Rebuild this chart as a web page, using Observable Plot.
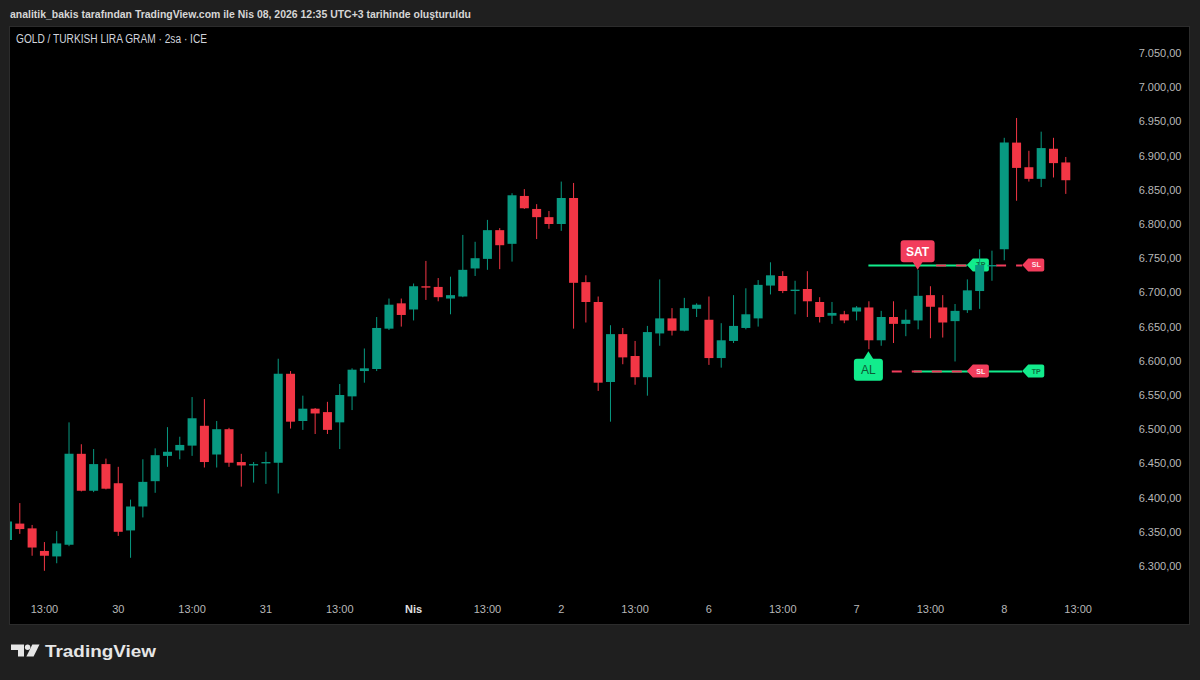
<!DOCTYPE html>
<html>
<head>
<meta charset="utf-8">
<script src="https://cdn.jsdelivr.net/npm/d3@7"></script>
<script src="https://cdn.jsdelivr.net/npm/@observablehq/plot@0.6"></script>
<style>
  html, body { margin: 0; padding: 0; background: #1f1f1f; }
  #page { position: relative; width: 1200px; height: 680px; background: #1f1f1f; overflow: hidden; }
  #panel { position: absolute; left: 9px; top: 26px; width: 1179px; height: 597px; background: #000; border: 1px solid #2c2c2c; }
  #chart { position: absolute; left: 0; top: 0; width: 1200px; height: 680px; }
  #overlay { position: absolute; left: 0; top: 0; pointer-events: none; }
</style>
</head>
<body>
<div id="page">
  <div id="panel"></div>
  <div id="chart"></div>
  <svg id="overlay" width="1200" height="680" xmlns="http://www.w3.org/2000/svg">
    <text x="10" y="18" font-family="Liberation Sans, Arial, sans-serif" font-size="11.5" font-weight="bold" fill="#d6d6d6" textLength="461" lengthAdjust="spacingAndGlyphs">analitik_bakis tarafından TradingView.com ile Nis 08, 2026 12:35 UTC+3 tarihinde oluşturuldu</text>
    <text x="16" y="42.5" font-family="Liberation Sans, Arial, sans-serif" font-size="12" fill="#d1d4dc" textLength="191" lengthAdjust="spacingAndGlyphs">GOLD / TURKISH LIRA GRAM · 2sa · ICE</text>
    <g fill="#e6e6e6">
      <path d="M11,644.5 H24 V656.5 H18 V650 H11 Z"/>
      <circle cx="27.6" cy="647.2" r="2.7"/>
      <path d="M32.3,644.5 H39.5 L33.6,656.5 H26.4 Z"/>
      <text x="45" y="656.7" font-family="Liberation Sans, Arial, sans-serif" font-size="16.5" font-weight="bold" textLength="111" lengthAdjust="spacingAndGlyphs">TradingView</text>
    </g>
  </svg>
</div>
<script>
// ---- OHLC data, 2-hour bars (index 1..87) ----
const opens  = [6338,6362,6355,6322,6314,6331,6464,6410,6449,6421,
                6352,6387,6424,6461,6469,6476,6505,6463,6500,6452,
                6447,6450,6451,6581,6512,6530,6525,6510,6548,6585,
                6588,6647,6684,6675,6709,6708,6691,6694,6735,6749,
                6791,6771,6841,6822,6810,6800,6838,6715,6686,6569,
                6639,6607,6576,6640,6662,6644,6676,6660,6604,6629,
                6648,6662,6710,6724,6702,6705,6686,6666,6668,6672,
                6678,6630,6664,6654,6659,6696,6678,6658,6674,6702,
                6738,6763,6919,6883,6866,6910,6890];
const highs  = [6372,6392,6360,6335,6351,6510,6478,6471,6457,6445,
                6397,6456,6472,6503,6489,6547,6544,6512,6502,6464,
                6452,6467,6603,6585,6549,6531,6540,6566,6589,6618,
                6664,6691,6691,6713,6746,6721,6723,6784,6774,6806,
                6794,6845,6851,6829,6819,6862,6860,6725,6694,6652,
                6648,6629,6651,6719,6677,6692,6684,6694,6655,6696,
                6706,6718,6744,6731,6717,6731,6693,6686,6673,6680,
                6687,6673,6687,6675,6733,6709,6696,6683,6719,6763,
                6761,6926,6955,6907,6935,6926,6898];
const lows   = [6330,6347,6315,6293,6304,6329,6409,6408,6412,6344,
                6312,6371,6407,6445,6456,6461,6444,6444,6445,6416,
                6422,6420,6406,6501,6499,6493,6493,6471,6528,6568,
                6585,6645,6650,6659,6689,6687,6668,6693,6724,6733,
                6734,6745,6822,6778,6793,6790,6647,6656,6556,6511,
                6595,6565,6549,6622,6637,6643,6664,6594,6590,6626,
                6646,6650,6697,6699,6668,6664,6656,6654,6655,6659,
                6617,6622,6626,6636,6646,6633,6634,6599,6670,6676,
                6717,6747,6834,6862,6854,6868,6844];
const closes = [6365,6354,6327,6315,6333,6464,6410,6449,6413,6350,
                6387,6423,6462,6467,6477,6516,6452,6500,6451,6447,
                6449,6452,6581,6511,6530,6523,6499,6550,6587,6589,
                6648,6682,6667,6709,6707,6693,6696,6733,6750,6791,
                6769,6842,6823,6810,6800,6838,6714,6686,6568,6639,
                6605,6576,6642,6662,6644,6677,6682,6604,6630,6651,
                6668,6711,6725,6702,6704,6687,6664,6670,6659,6678,
                6630,6664,6654,6660,6695,6679,6656,6673,6703,6740,
                6740,6919,6882,6866,6911,6889,6864];

// ---- axis ticks ----
const priceTicks = [6300,6350,6400,6450,6500,6550,6600,6650,6700,6750,6800,6850,6900,6950,7000,7050];
const timeTickIndex = [4,10,16,22,28,34,40,46,52,58,64,70,76,82,88];
const timeTickLabel = ["13:00","30","13:00","31","13:00","Nis","13:00","2","13:00","6","13:00","7","13:00","8","13:00"];

// ---- signals (bar index, price) ----
const signalText  = ["SAT", "AL"];
const signalBar   = [75, 71];
const signalPrice = [6733, 6614];

// trade level segments
const levelPrice = [6740, 6740, 6585, 6585];
const levelFrom  = [71, 76.5, 74.7, 72.9];
const levelTo    = [79, 83.5, 83.5, 79];
const levelKind  = ["tp", "sl", "tp", "sl"];

// target / stop tags
const tagText  = ["TP", "SL", "SL", "TP"];
const tagBar   = [79, 83.5, 79, 83.5];
const tagPrice = [6740, 6740, 6585, 6585];

// ---- build tables ----
const bars = opens.map((o, k) => ({i: k + 1, open: o, high: highs[k], low: lows[k], close: closes[k]}));
const upBars = bars.filter(d => d.close >= d.open);
const downBars = bars.filter(d => d.close < d.open);
const levels = levelPrice.map((p, k) => ({price: p, from: levelFrom[k], to: levelTo[k], kind: levelKind[k]}));
const timeTicks = timeTickIndex.map((i, k) => ({i, label: timeTickLabel[k]}));

const UP = "#089981", DOWN = "#f23645";
const TAG_GREEN = "#12ec8c", TAG_RED = "#f23d5c";

const trLocale = d3.formatLocale({decimal: ",", thousands: ".", grouping: [3], currency: ["", " ₺"]});
const fmtPrice = trLocale.format(",.2f");

function tagsMark(index, scales) {
  const g = d3.create("svg:g");
  tagText.forEach((t, k) => {
    const x = scales.x(tagBar[k]), y = scales.y(tagPrice[k]);
    const col = t === "TP" ? TAG_GREEN : TAG_RED;
    const h = 6.5, w = 22;
    g.append("path")
      .attr("d", `M${x},${y} L${x + 6},${y - h} H${x + w - 2} Q${x + w},${y - h} ${x + w},${y - h + 2} V${y + h - 2} Q${x + w},${y + h} ${x + w - 2},${y + h} H${x + 6} Z`)
      .attr("fill", col);
    g.append("text")
      .attr("x", x + 14).attr("y", y).attr("dy", "0.35em")
      .attr("text-anchor", "middle")
      .attr("font-size", 7).attr("font-weight", "bold")
      .attr("fill", t === "TP" ? "#0f6b40" : "#ffe8ee")
      .text(t);
  });
  return g.node();
}

function signalsMark(index, scales) {
  const g = d3.create("svg:g");
  signalText.forEach((t, k) => {
    const x = scales.x(signalBar[k]), tip = scales.y(signalPrice[k]);
    const sell = t === "SAT";
    const col = sell ? TAG_RED : TAG_GREEN;
    const w = sell ? 34 : 29, h = 22;
    const gap = 7.5;
    const top = sell ? tip - gap - h : tip + gap;
    g.append("rect")
      .attr("x", x - w / 2).attr("y", top).attr("width", w).attr("height", h)
      .attr("rx", 3).attr("fill", col);
    const by = sell ? top + h - 0.5 : top + 0.5;
    g.append("path")
      .attr("d", `M${x - 5},${by} L${x + 5},${by} L${x},${tip} Z`)
      .attr("fill", col);
    g.append("text")
      .attr("x", x).attr("y", top + h / 2).attr("dy", "0.36em")
      .attr("text-anchor", "middle")
      .attr("font-size", 12).attr("font-weight", sell ? "bold" : "normal")
      .attr("fill", sell ? "#ffffff" : "#0d5a36")
      .text(t);
  });
  return g.node();
}

const chart = Plot.plot({
  width: 1200,
  height: 680,
  marginLeft: 10,
  marginRight: 110,
  marginTop: 27,
  marginBottom: 56,
  x: {type: "linear", domain: [1, 88], range: [7, 1077.6], axis: null},
  y: {type: "linear", domain: [6300, 7050], range: [566, 53], axis: null},
  style: {background: "transparent", color: "#b2b5be", fontFamily: "Liberation Sans, Arial, sans-serif", fontSize: "11px", overflow: "visible"},
  marks: [
    // trade levels
    Plot.ruleY(levels.filter(d => d.kind === "tp"), {y: "price", x1: "from", x2: "to", stroke: TAG_GREEN, strokeWidth: 2}),
    Plot.ruleY(levels.filter(d => d.kind === "sl"), {y: "price", x1: "from", x2: "to", stroke: TAG_RED, strokeWidth: 2, strokeDasharray: "10,10"}),
    tagsMark,
    // candles: wicks then bodies
    Plot.ruleX(upBars, {x: "i", y1: "low", y2: "high", stroke: UP, strokeWidth: 1, clip: true}),
    Plot.ruleX(downBars, {x: "i", y1: "low", y2: "high", stroke: DOWN, strokeWidth: 1, clip: true}),
    Plot.ruleX(upBars, {x: "i", y1: "open", y2: "close", stroke: UP, strokeWidth: 9, clip: true}),
    Plot.ruleX(downBars, {x: "i", y1: "open", y2: "close", stroke: DOWN, strokeWidth: 9, clip: true}),
    signalsMark,
    // price axis
    Plot.axisY(priceTicks, {anchor: "right", tickSize: 0, tickPadding: 3, tickFormat: fmtPrice, textAnchor: "end", dx: 88, fill: "#b8b8b8", fontSize: 11}),
    // time axis
    Plot.text(timeTicks.filter(d => d.label !== "Nis"), {x: "i", text: "label", frameAnchor: "bottom", dy: -12, fill: "#b8b8b8", fontSize: 11}),
    Plot.text(timeTicks.filter(d => d.label === "Nis"), {x: "i", text: "label", frameAnchor: "bottom", dy: -12, fill: "#e0e0e0", fontSize: 11, fontWeight: "bold"})
  ]
});
document.getElementById("chart").appendChild(chart);
</script>
</body>
</html>
